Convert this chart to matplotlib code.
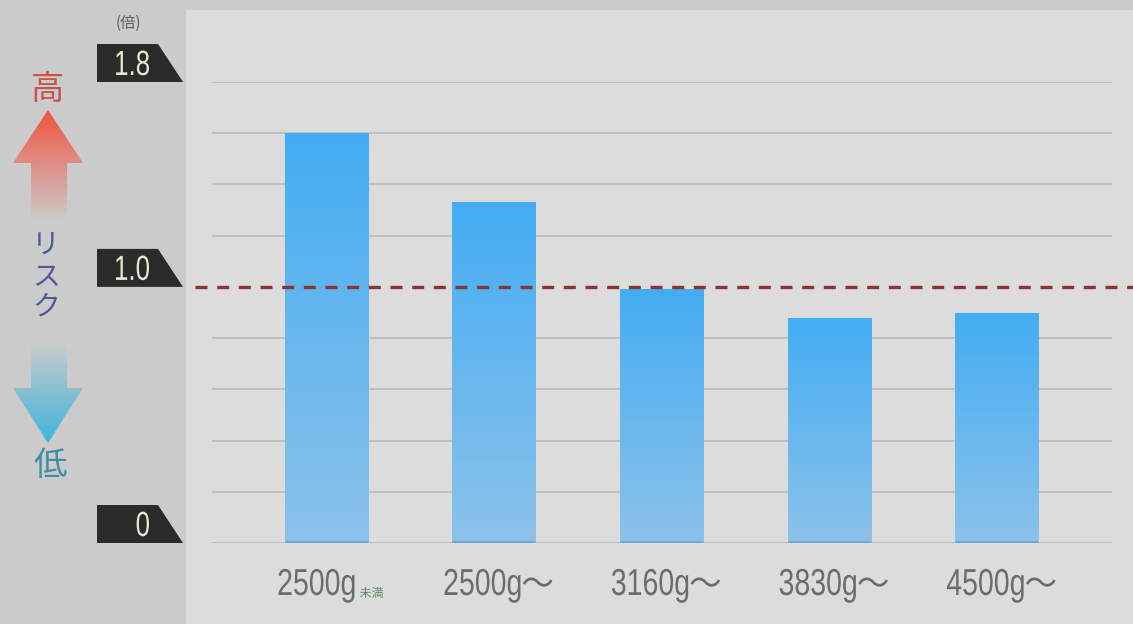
import numpy as np
import matplotlib
matplotlib.use("Agg")
import matplotlib.pyplot as plt
from matplotlib.patches import Polygon, Rectangle, PathPatch
from matplotlib.colors import to_rgb
from matplotlib.transforms import blended_transform_factory, Affine2D
from matplotlib.textpath import TextPath
from matplotlib.font_manager import FontProperties

# data
categories = ["2500g", "2500g", "3160g", "3830g", "4500g"]
suffixes = ["未満", "～", "～", "～", "～"]
risk = [1.60, 1.33, 0.99, 0.88, 0.90]
ytick_values = [0, 1.0, 1.8]
ytick_labels = ["0", "1.0", "1.8"]
ref_value = 1.0

W, H = 1133, 624
LAT = "Liberation Sans"
CJK = "Noto Sans CJK JP"
plt.rcParams["font.family"] = [CJK, "DejaVu Sans"]

fig = plt.figure(figsize=(W / 100, H / 100), dpi=100)
fig.patch.set_facecolor("#cbcbcb")

# overlay in pixel coords for the decorations (y grows downward)
deco = fig.add_axes([0, 0, 1, 1], zorder=0)
deco.set_xlim(0, W)
deco.set_ylim(H, 0)
deco.axis("off")
deco.add_patch(Rectangle((186, 10), W - 186, H - 10, facecolor="#dcdcdc", edgecolor="none"))

ax = fig.add_axes([212 / W, 81 / H, 900 / W, 461 / H], zorder=1)
ax.patch.set_visible(False)
ax.set_xlim(-0.68, 4.686)
ax.set_ylim(0, 1.8)
for s in ax.spines.values():
    s.set_visible(False)
ax.set_xticks([])
ax.set_yticks([])

# grid lines every 0.2
for v in np.arange(0, 1.81, 0.2):
    if abs(v - ref_value) < 1e-6:
        continue
    ax.axhline(v, color="#bdbdbd", lw=1.3, zorder=1)

# gradient bars
top_c = np.array(to_rgb("#43adf3"))
bot_c = np.array(to_rgb("#8cc2ea"))
grad = np.linspace(0, 1, 256)[:, None]
img = top_c[None, None, :] * (1 - grad[..., None]) + bot_c[None, None, :] * grad[..., None]
img = np.repeat(img, 2, axis=1)
bw = 0.495
bars = ax.bar(range(len(risk)), risk, width=bw, color="none", edgecolor="none", zorder=2)
for b in bars:
    x0, h = b.get_x(), b.get_height()
    im = ax.imshow(img, extent=(x0, x0 + bw, 0, h), aspect="auto", zorder=2, interpolation="bilinear")
    im.set_clip_path(b)
    ax.plot([x0, x0 + bw], [0.004, 0.004], color="#6fa6d2", lw=2, zorder=3, solid_capstyle="butt")
ax.set_xlim(-0.68, 4.686)
ax.set_ylim(0, 1.8)

# reference dashed line at 1.0
tr = blended_transform_factory(ax.transAxes, ax.transData)
ax.plot([-0.019, 1.03], [ref_value, ref_value], transform=tr, color="#8a3434",
        lw=2.4, linestyle=(0, (3.6, 2.9)), clip_on=False, zorder=4)


# condensed text drawn as paths (no narrow font installed)
def tpath(s, px, family):
    return TextPath((0, 0), s, size=px, prop=FontProperties(family=family))


def draw_path(tp, x, base, sx, color):
    t = Affine2D().scale(sx, -1).translate(x, base)
    deco.add_patch(PathPatch(t.transform_path(tp), facecolor=color, edgecolor="none", lw=0))


def to_px(xd, yd):
    px, py = ax.transData.transform((xd, yd))
    return px, H - py


# x labels
SX = 0.76
for i, (lab, suf) in enumerate(zip(categories, suffixes)):
    cx, _ = to_px(i, 0)
    main = tpath(lab, 37.5, LAT)
    mw = main.get_extents().x1 * SX
    if suf == "～":
        tail = tpath(suf, 34, CJK)
        tsx, gap, col = 0.95, 1, "#6c6c6c"
        tbase = 595
    else:
        tail = tpath(suf, 12, CJK)
        tsx, gap, col = 1.0, 5, "#5f8a68"
        tbase = 597
    tw = tail.get_extents().x1 * tsx
    x0 = cx + 4 - (mw + gap + tw) / 2
    draw_path(main, x0, 595, SX, "#6c6c6c")
    draw_path(tail, x0 + mw + gap, tbase, tsx, col)

# y label boxes (trapezoid tags)
for v, lab in zip(ytick_values, ytick_labels):
    _, yb = to_px(0, v)
    yt = yb - 38
    deco.add_patch(Polygon([(97, yt), (158, yt), (183, yb), (97, yb)],
                           closed=True, facecolor="#2b2b2b", edgecolor="none"))
    tp = tpath(lab, 35, LAT)
    draw_path(tp, 149 - tp.get_extents().x1 * 0.74, yb - 7, 0.74, "#e2e9d6")
deco.text(128, 23, "(倍)", ha="center", va="center", fontsize=11, color="#606060")


def grad_arrow(pts, y0, y1, color, a0, a1):
    poly = Polygon(pts, closed=True, facecolor="none", edgecolor="none")
    deco.add_patch(poly)
    c = np.array(to_rgb(color))
    t = np.linspace(0, 1, 200)[:, None]
    rgba = np.zeros((200, 2, 4))
    rgba[..., :3] = c
    rgba[..., 3] = (a0 + (a1 - a0) * t)
    im = deco.imshow(rgba, extent=(0, 100, y1, y0), aspect="auto", interpolation="bilinear")
    im.set_clip_path(poly)


# red arrow up
grad_arrow([(48, 110), (83, 163), (67, 163), (67, 220), (31, 220), (31, 163), (13, 163)],
           110, 220, "#f2533f", 1.0, 0.0)
# blue arrow down
grad_arrow([(31, 343), (67, 343), (67, 388), (83, 388), (48, 443), (13, 388), (31, 388)],
           343, 443, "#3db4dc", 0.0, 1.0)
deco.set_xlim(0, W)
deco.set_ylim(H, 0)

deco.text(48, 90, "高", ha="center", va="center", fontsize=24, color="#c85448")
for ch, yy in zip("リスク", [245, 277, 307]):
    deco.text(46, yy, ch, ha="center", va="center", fontsize=20, color="#4f5b96")
deco.text(50, 466, "低", ha="center", va="center", fontsize=24, color="#3d8ea8")

fig.savefig("out.png", dpi=100, facecolor=fig.get_facecolor())
